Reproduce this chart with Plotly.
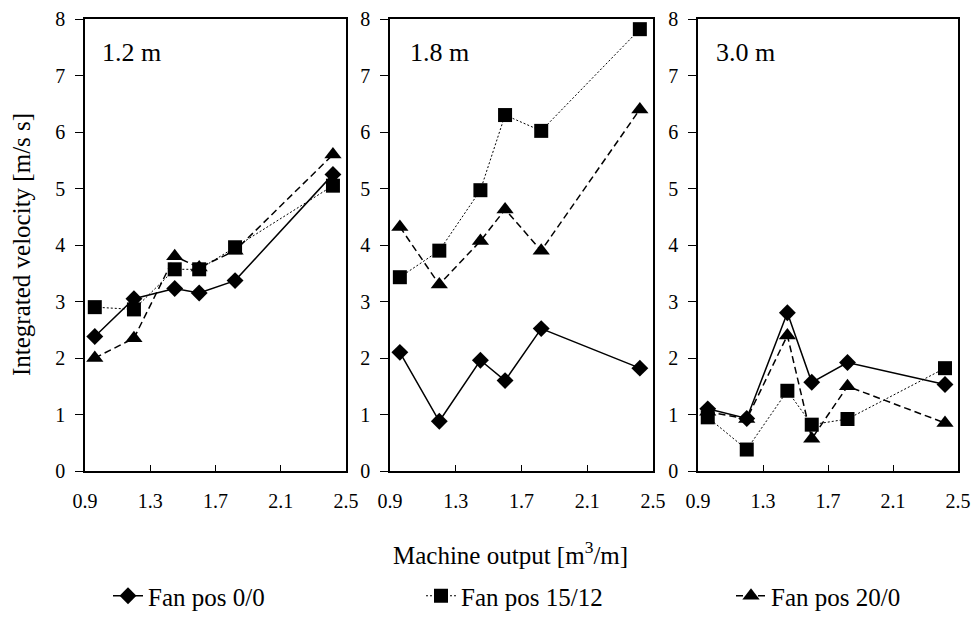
import plotly.graph_objects as go

# ---- data ----
machine_output = [0.96, 1.20, 1.45, 1.60, 1.82, 2.42]
panel_labels = ["1.2 m", "1.8 m", "3.0 m"]
series_names = ["Fan pos 0/0", "Fan pos 15/12", "Fan pos 20/0"]

fan00 = [
    [2.38, 3.05, 3.23, 3.15, 3.37, 5.25],
    [2.10, 0.88, 1.96, 1.60, 2.52, 1.82],
    [1.10, 0.93, 2.80, 1.57, 1.92, 1.53],
]
fan1512 = [
    [2.90, 2.86, 3.57, 3.57, 3.96, 5.05],
    [3.43, 3.90, 4.97, 6.30, 6.02, 7.82],
    [0.95, 0.38, 1.42, 0.82, 0.92, 1.82],
]
fan200 = [
    [2.00, 2.35, 3.80, 3.60, 3.90, 5.60],
    [4.32, 3.30, 4.07, 4.63, 3.90, 6.40],
    [1.05, 0.92, 2.40, 0.57, 1.50, 0.85],
]
x_ticks = [0.9, 1.3, 1.7, 2.1, 2.5]
y_ticks = [0, 1, 2, 3, 4, 5, 6, 7, 8]

# ---- styling ----
W, H = 973, 621
FONT = "Liberation Serif"
styles = [
    dict(symbol="diamond", size=13, dash="solid", width=1.5),
    dict(symbol="square", size=14, dash="2px,2px", width=1),
    dict(symbol="triangle-up", size=15, dash="7px,4px", width=1.5),
]
series = [fan00, fan1512, fan200]
legend_ids = ["legend", "legend2", "legend3"]
legend_text_x = [148, 461, 771]

x_domains = [(85 / W, 346 / W), (390 / W, 653 / W), (698 / W, 958 / W)]
y_domain = (1 - 471 / H, 1 - 19 / H)
label_x = [100, 408, 714]

fig = go.Figure()

for p in range(3):
    xa = "x" if p == 0 else f"x{p + 1}"
    ya = "y" if p == 0 else f"y{p + 1}"
    for s in range(3):
        st = styles[s]
        fig.add_trace(go.Scatter(
            x=machine_output, y=series[s][p], xaxis=xa, yaxis=ya,
            mode="lines+markers", name=series_names[s],
            showlegend=(p == 0), legendgroup=series_names[s], legend=legend_ids[s],
            line=dict(color="black", width=st["width"], dash=st["dash"]),
            marker=dict(symbol=st["symbol"], size=st["size"], color="black"),
        ))

axis_common = dict(showline=True, linecolor="black", linewidth=1.5, mirror=True,
                   showgrid=False, zeroline=False, automargin=False,
                   tickfont=dict(family=FONT, size=20, color="black"))

layout = dict(
    width=W, height=H, margin=dict(l=0, r=0, t=0, b=0),
    plot_bgcolor="white", paper_bgcolor="white",
    font=dict(family=FONT, color="black"),
)
for s in range(3):
    layout[legend_ids[s]] = dict(
        orientation="h", x=(legend_text_x[s] - 40) / W, xanchor="left",
        y=1 - 596 / H, yanchor="middle",
        font=dict(family=FONT, size=25, color="black"),
        itemwidth=30, bgcolor="rgba(0,0,0,0)")
for p in range(3):
    xk = "xaxis" if p == 0 else f"xaxis{p + 1}"
    yk = "yaxis" if p == 0 else f"yaxis{p + 1}"
    ya = "y" if p == 0 else f"y{p + 1}"
    xa = "x" if p == 0 else f"x{p + 1}"
    layout[xk] = dict(axis_common, domain=x_domains[p], range=[0.9, 2.5], anchor=ya,
                      tickmode="array", tickvals=x_ticks,
                      ticktext=[f"{v:.1f}" for v in x_ticks],
                      ticks="inside", ticklen=6, tickwidth=1, tickcolor="black",
                      ticklabelstandoff=11)
    layout[yk] = dict(axis_common, domain=y_domain, range=[0, 8], anchor=xa,
                      tickmode="array", tickvals=y_ticks,
                      ticks="outside", ticklen=8, tickwidth=1, tickcolor="black",
                      ticklabelstandoff=6)
fig.update_layout(**layout)

ann = []
for p in range(3):
    ann.append(dict(text=panel_labels[p], xref="paper", yref="paper",
                    x=label_x[p] / W, y=1 - 52 / H, xanchor="left", yanchor="middle",
                    showarrow=False, font=dict(family=FONT, size=26, color="black")))
ann.append(dict(text="Integrated velocity [m/s s]", xref="paper", yref="paper",
                x=22 / W, y=1 - 245 / H, textangle=-90, xanchor="center", yanchor="middle",
                showarrow=False, font=dict(family=FONT, size=25, color="black")))
ann.append(dict(text="Machine output [m<sup>3</sup>/m]", xref="paper", yref="paper",
                x=511 / W, y=1 - 553 / H, xanchor="center", yanchor="middle",
                showarrow=False, font=dict(family=FONT, size=25, color="black")))
fig.update_layout(annotations=ann)

fig.write_html("out.html")
